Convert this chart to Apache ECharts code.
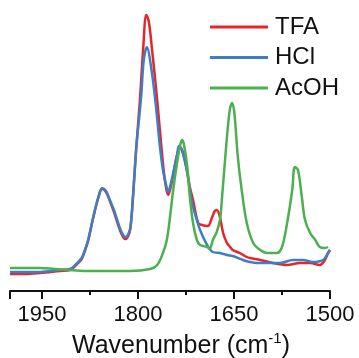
<!DOCTYPE html>
<html>
<head>
<meta charset="utf-8">
<script src="https://cdn.jsdelivr.net/npm/echarts@6/dist/echarts.min.js"></script>
<style>
  html, body { margin: 0; padding: 0; background: #fff; }
  #chart { width: 359px; height: 358px; }
</style>
</head>
<body>
<div id="chart"></div>
<script>
// [wavenumber (cm-1), absorbance (a.u.)]
const tfa = [
  [2000, 0.17], [1977, 0.17], [1953, 0.18], [1922, 0.20], [1906, 0.21], [1895, 0.27],
  [1888, 0.32], [1883, 0.40], [1878, 0.50], [1870, 0.73], [1862, 0.93], [1856, 1.02],
  [1850, 0.99], [1844, 0.90], [1837, 0.78], [1831, 0.66], [1825, 0.56], [1820, 0.52],
  [1816, 0.54], [1812, 0.62], [1808, 0.92], [1803, 1.41], [1797, 1.91], [1792, 2.41],
  [1787, 2.76], [1783, 2.69], [1778, 2.41], [1770, 1.91], [1763, 1.41], [1758, 1.11],
  [1753, 0.96], [1750, 1.01], [1745, 1.16], [1739, 1.36], [1734, 1.43], [1730, 1.38],
  [1723, 1.19], [1719, 1.04], [1714, 0.91], [1706, 0.68], [1700, 0.66], [1691, 0.65],
  [1684, 0.74], [1680, 0.80], [1677, 0.81], [1672, 0.74], [1667, 0.58], [1661, 0.48],
  [1656, 0.44], [1652, 0.41], [1641, 0.38], [1630, 0.34], [1625, 0.33], [1609, 0.31],
  [1589, 0.28], [1567, 0.26], [1547, 0.28], [1531, 0.28], [1516, 0.26], [1508, 0.31],
  [1503, 0.38], [1500, 0.41]
];
const hcl = [
  [2000, 0.19], [1977, 0.19], [1953, 0.19], [1922, 0.21], [1906, 0.22], [1895, 0.28],
  [1888, 0.33], [1883, 0.41], [1878, 0.51], [1870, 0.74], [1862, 0.94], [1856, 1.03],
  [1850, 1.00], [1844, 0.91], [1837, 0.80], [1831, 0.68], [1825, 0.58], [1820, 0.54],
  [1816, 0.56], [1812, 0.63], [1808, 0.93], [1805, 1.22], [1802, 1.48], [1795, 1.95],
  [1791, 2.31], [1786, 2.44], [1780, 2.26], [1773, 1.91], [1766, 1.46], [1761, 1.21],
  [1756, 1.06], [1753, 0.99], [1750, 1.04], [1745, 1.18], [1739, 1.36], [1736, 1.45],
  [1731, 1.41], [1727, 1.31], [1723, 1.18], [1719, 1.01], [1714, 0.84], [1708, 0.71],
  [1703, 0.61], [1692, 0.46], [1683, 0.39], [1672, 0.38], [1661, 0.36], [1652, 0.35],
  [1636, 0.31], [1625, 0.29], [1614, 0.28], [1598, 0.28], [1578, 0.28], [1558, 0.31],
  [1542, 0.31], [1527, 0.29], [1511, 0.31], [1503, 0.38], [1500, 0.41]
];
const acoh = [
  [2000, 0.23], [1977, 0.23], [1953, 0.23], [1930, 0.22], [1906, 0.21], [1875, 0.20],
  [1844, 0.20], [1812, 0.20], [1781, 0.22], [1770, 0.26], [1761, 0.38], [1755, 0.51],
  [1750, 0.74], [1745, 1.01], [1739, 1.28], [1734, 1.46], [1731, 1.51], [1728, 1.46],
  [1723, 1.24], [1719, 0.94], [1714, 0.68], [1708, 0.51], [1703, 0.46], [1692, 0.44],
  [1688, 0.42], [1683, 0.51], [1677, 0.59], [1672, 0.71], [1669, 0.91], [1664, 1.31],
  [1659, 1.68], [1656, 1.83], [1653, 1.88], [1650, 1.81], [1648, 1.68], [1644, 1.34],
  [1638, 1.01], [1630, 0.68], [1620, 0.48], [1609, 0.41], [1598, 0.38], [1583, 0.38],
  [1575, 0.44], [1567, 0.68], [1559, 1.01], [1555, 1.24], [1550, 1.21], [1544, 0.94],
  [1539, 0.71], [1531, 0.58], [1523, 0.51], [1516, 0.44], [1508, 0.43], [1503, 0.44]
];
const seriesNames = ["TFA", "HCl", "AcOH"];
const seriesColors = ["#e8242b", "#3d7fc4", "#4caf50"];
const seriesData = [tfa, hcl, acoh];

const font = "Arial, 'Liberation Sans', sans-serif";
const chart = echarts.init(document.getElementById("chart"));

chart.setOption({
  animation: false,
  grid: { left: 10, right: 29, top: 11, bottom: 67, outerBoundsMode: "none" },
  legend: {
    orient: "vertical",
    left: 210,
    top: 12,
    padding: 0,
    itemWidth: 58,
    itemHeight: 3,
    itemGap: 0.5,
    icon: "rect",
    data: seriesNames,
    textStyle: { fontFamily: font, fontSize: 24, lineHeight: 30, color: "#111", padding: [0, 0, 0, 2] }
  },
  xAxis: {
    type: "value",
    min: 1500,
    max: 2000,
    interval: 150,
    inverse: true,
    name: "{a|Wavenumber (cm}{b|-1}{a|)}",
    nameLocation: "middle",
    nameGap: 40,
    nameTextStyle: {
      padding: [0, 0, 0, 22],
      rich: {
        a: { fontFamily: font, fontSize: 25, lineHeight: 30, color: "#111" },
        b: { fontFamily: font, fontSize: 15, lineHeight: 15, color: "#111", verticalAlign: "top" }
      }
    },
    axisLine: { lineStyle: { color: "#111", width: 2 } },
    axisTick: { length: 8, lineStyle: { color: "#111", width: 2 } },
    minorTick: { show: true, splitNumber: 2, length: 4, lineStyle: { color: "#111", width: 2 } },
    axisLabel: { fontFamily: font, fontSize: 22, color: "#111", margin: 13, formatter: (v) => String(v) },
    splitLine: { show: false }
  },
  yAxis: {
    type: "value",
    min: 0,
    max: 2.8,
    show: false
  },
  series: seriesNames.map((name, i) => ({
    name,
    type: "line",
    data: seriesData[i],
    showSymbol: false,
    smooth: 0.35,
    color: seriesColors[i],
    lineStyle: { color: seriesColors[i], width: 2.5 }
  }))
});
</script>
</body>
</html>
